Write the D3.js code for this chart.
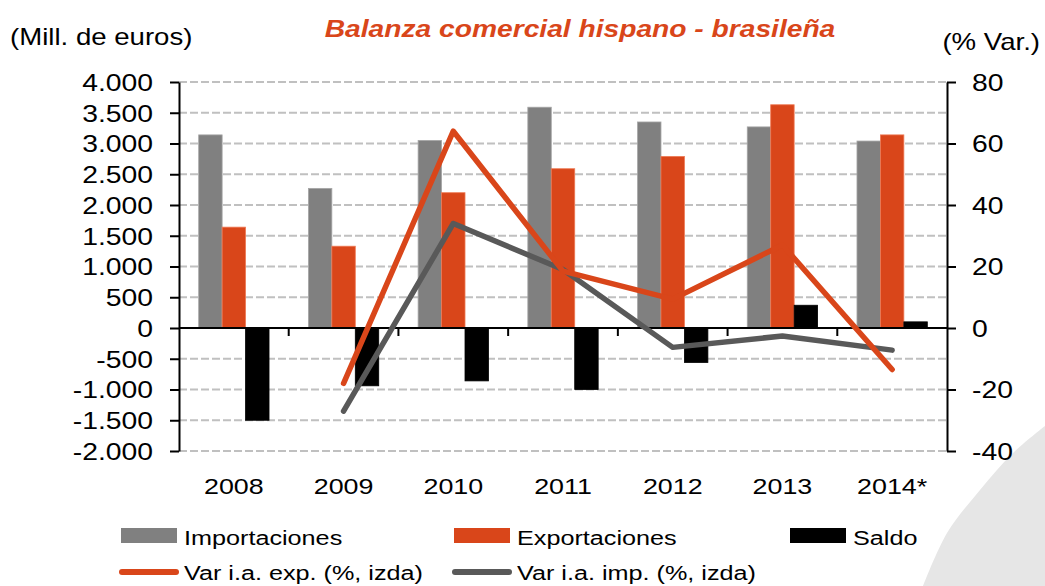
<!DOCTYPE html>
<html>
<head>
  <meta charset="utf-8">
  <title>Balanza comercial hispano - brasileña</title>
  <script src="https://cdn.jsdelivr.net/npm/d3@7"></script>
  <style>
    body { margin: 0; background: #fff; }
    text { font-family: "Liberation Sans", Arial, sans-serif; fill: #000; }
  </style>
</head>
<body>
  <svg width="1045" height="586" id="mainsvg"></svg>
  <script>
    // data
    const years = ['2008', '2009', '2010', '2011', '2012', '2013', '2014*'];
    const importaciones = [3140, 2270, 3050, 3590, 3350, 3270, 3040];
    const exportaciones = [1640, 1330, 2200, 2590, 2790, 3630, 3140];
    const saldo = [-1500, -940, -860, -1000, -560, 370, 100];
    const varExp = [null, -18, 64, 18.5, 9.4, 27, -13.5];
    const varImp = [null, -27, 34, 19, -6.3, -2.6, -7.2];
    const leftTicks = [-2000, -1500, -1000, -500, 0, 500, 1000, 1500, 2000, 2500, 3000, 3500, 4000];
    const rightTicks = [-40, -20, 0, 20, 40, 60, 80];

    const orange = '#D9461A';
    const gray = '#808080';
    const darkGray = '#595959';

    const svg = d3.select('#mainsvg');
    const plot = { left: 179, right: 947, top: 82, bottom: 451 };

    const locale = d3.formatLocale({ decimal: ',', thousands: '.', grouping: [3], currency: ['', '€'], minus: '-' });
    const fmt = locale.format(',d');

    const x = d3.scaleBand().domain(years).range([plot.left, plot.right]);
    const series = ['imp', 'exp', 'saldo'];
    const xSub = d3.scaleBand().domain(series).range([0, x.bandwidth()]).paddingInner(0).paddingOuter(0.84);
    const yL = d3.scaleLinear().domain([-2000, 4000]).range([plot.bottom, plot.top]);
    const yR = d3.scaleLinear().domain([-40, 80]).range([plot.bottom, plot.top]);

    // stretched text helper (the original text is a bit wide)
    const stretch = (sel, tx, ty, s) => sel.attr('transform', `translate(${tx},${ty}) scale(${s},1)`);

    // decorative swoosh bottom right
    const swoosh = [[1045, 426], [1013, 453], [980, 490], [947, 533], [923, 586]];
    svg.append('path')
      .attr('d', d3.line().curve(d3.curveCatmullRom)(swoosh) + 'L1045,586Z')
      .attr('fill', '#e6e6e6');

    // gridlines
    svg.append('g').selectAll('line')
      .data(leftTicks.filter(d => d !== 0))
      .join('line')
      .attr('x1', plot.left).attr('x2', plot.right)
      .attr('y1', d => yL(d)).attr('y2', d => yL(d))
      .attr('stroke', '#c0c0c0')
      .attr('stroke-width', 2)
      .attr('stroke-dasharray', '8,3');

    // bars
    const rows = years.map((y, i) => ({ year: y, imp: importaciones[i], exp: exportaciones[i], saldo: saldo[i] }));
    const colors = { imp: gray, exp: orange, saldo: '#000' };
    const strokes = { imp: '#a6a6a6', exp: '#ee7a55', saldo: '#000' };
    const groups = svg.append('g').selectAll('g')
      .data(rows)
      .join('g')
      .attr('transform', d => `translate(${x(d.year)},0)`);
    groups.selectAll('rect')
      .data(d => series.map(k => ({ key: k, value: d[k] })))
      .join('rect')
      .attr('x', d => xSub(d.key))
      .attr('width', xSub.bandwidth())
      .attr('y', d => yL(Math.max(0, d.value)))
      .attr('height', d => Math.abs(yL(d.value) - yL(0)))
      .attr('fill', d => colors[d.key])
      .attr('stroke', d => strokes[d.key])
      .attr('stroke-width', 0.8);

    // zero line + category ticks
    svg.append('line')
      .attr('x1', plot.left).attr('x2', plot.right)
      .attr('y1', yL(0)).attr('y2', yL(0))
      .attr('stroke', '#000').attr('stroke-width', 2);
    svg.append('g').selectAll('line')
      .data(years.slice(1))
      .join('line')
      .attr('x1', d => x(d)).attr('x2', d => x(d))
      .attr('y1', yL(0)).attr('y2', yL(0) + 8)
      .attr('stroke', '#000').attr('stroke-width', 2);

    // axes
    const leftAxis = d3.axisLeft(yL).tickValues(leftTicks).tickFormat(fmt).tickSize(9).tickSizeOuter(0).tickPadding(0);
    const gL = svg.append('g').attr('transform', `translate(${plot.left},0)`).call(leftAxis);
    gL.selectAll('path, line').attr('stroke', '#000').attr('stroke-width', 2);
    gL.selectAll('text').attr('x', null).attr('dy', '0.35em')
      .style('font-size', '24px').attr('fill', '#000')
      .call(s => stretch(s, -26, 0, 1.18));

    const rightAxis = d3.axisRight(yR).tickValues(rightTicks).tickFormat(fmt).tickSize(9).tickSizeOuter(0).tickPadding(0);
    const gR = svg.append('g').attr('transform', `translate(${plot.right},0)`).call(rightAxis);
    gR.selectAll('path, line').attr('stroke', '#000').attr('stroke-width', 2);
    gR.selectAll('text').attr('x', null).attr('dy', '0.35em')
      .style('font-size', '24px').attr('fill', '#000')
      .call(s => stretch(s, 25, 0, 1.18));

    // x labels
    svg.append('g').selectAll('text')
      .data(years)
      .join('text')
      .attr('text-anchor', 'middle')
      .style('font-size', '22px')
      .text(d => d)
      .each(function (d) { stretch(d3.select(this), x(d) + x.bandwidth() / 2, 494, 1.22); });

    // lines on the right axis
    const line = d3.line()
      .defined(d => d.v !== null)
      .x(d => x(d.year) + x.bandwidth() / 2)
      .y(d => yR(d.v));
    const lineSeries = [
      { name: 'Var i.a. imp. (%, izda)', values: varImp, color: darkGray },
      { name: 'Var i.a. exp. (%, izda)', values: varExp, color: orange }
    ];
    svg.append('g').selectAll('path')
      .data(lineSeries)
      .join('path')
      .attr('d', s => line(years.map((y, i) => ({ year: y, v: s.values[i] }))))
      .attr('fill', 'none')
      .attr('stroke', s => s.color)
      .attr('stroke-width', 5.5)
      .attr('stroke-linecap', 'round')
      .attr('stroke-linejoin', 'round');

    // titles
    stretch(svg.append('text').style('font-size', '23px').text('(Mill. de euros)'), 10, 45, 1.2);
    stretch(svg.append('text').style('font-size', '23px').attr('text-anchor', 'end').text('(% Var.)'), 1040, 50, 1.2);
    stretch(svg.append('text')
      .style('font-size', '23.5px').style('font-weight', 'bold').style('font-style', 'italic')
      .attr('fill', orange).style('fill', orange)
      .attr('text-anchor', 'middle')
      .text('Balanza comercial hispano - brasileña'), 580, 37, 1.2);

    // legend
    const legendBars = [
      { name: 'Importaciones', color: gray, x: 121 },
      { name: 'Exportaciones', color: orange, x: 454 },
      { name: 'Saldo', color: '#000', x: 790 }
    ];
    const legendLines = [
      { name: 'Var i.a. exp. (%, izda)', color: orange, x: 121 },
      { name: 'Var i.a. imp. (%, izda)', color: darkGray, x: 454 }
    ];
    const lg = svg.append('g');
    legendBars.forEach(d => {
      lg.append('rect').attr('x', d.x).attr('y', 528).attr('width', 56).attr('height', 15).attr('fill', d.color);
      stretch(lg.append('text').style('font-size', '21px').text(d.name), d.x + 63, 545, 1.2);
    });
    legendLines.forEach(d => {
      lg.append('line').attr('x1', d.x + 1).attr('x2', d.x + 55).attr('y1', 572).attr('y2', 572)
        .attr('stroke', d.color).attr('stroke-width', 6).attr('stroke-linecap', 'round');
      stretch(lg.append('text').style('font-size', '21px').text(d.name), d.x + 63, 580, 1.2);
    });
  </script>
</body>
</html>
